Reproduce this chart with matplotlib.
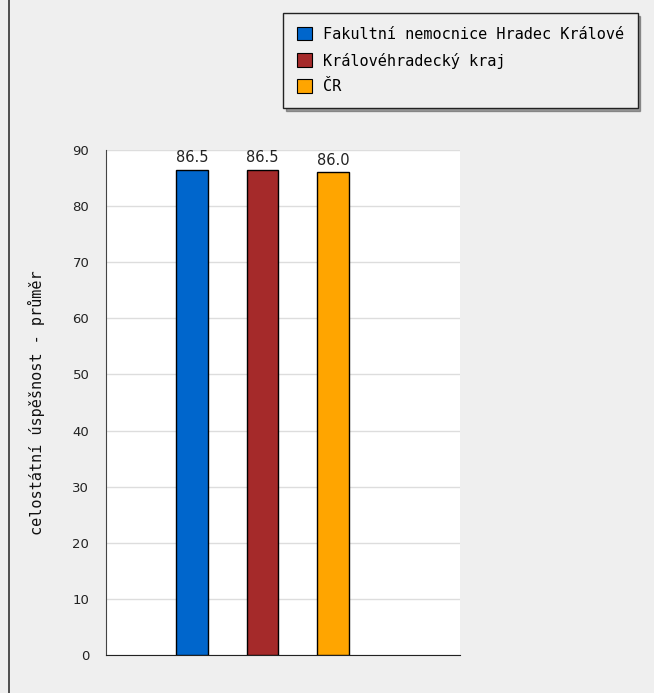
import matplotlib.pyplot as plt
from matplotlib.lines import Line2D
from matplotlib.patches import Patch

# data
series = ['Fakultní nemocnice Hradec Králové', 'Královéhradecký kraj', 'ČR']
values = [86.5, 86.5, 86.0]
colors = ['#0066cc', '#a52a2a', '#ffa500']
yticks = [0, 10, 20, 30, 40, 50, 60, 70, 80, 90]

fig = plt.figure(figsize=(6.54, 6.93), dpi=100, facecolor='#efefef')
ax = fig.add_axes([106 / 654, 1 - 655 / 693, 354 / 654, 505 / 693])
ax.set_facecolor('white')

x = range(len(values))
bars = ax.bar(x, values, width=0.45, color=colors, edgecolor='black', linewidth=1, zorder=3)
for b, v in zip(bars, values):
    ax.text(b.get_x() + b.get_width() / 2, v + 0.8, f'{v:.1f}', ha='center', va='bottom',
            fontsize=10.5, color='#222222', family='DejaVu Sans')

ax.set_xlim(-1.22, 3.80)
ax.set_ylim(0, 90)
ax.set_yticks(yticks)
ax.set_xticks([])
ax.tick_params(axis='y', length=0, pad=12, labelsize=9.5, labelcolor='#222222')
ax.grid(axis='y', color='#dddddd', linewidth=1, zorder=0)
for s in ['top', 'right']:
    ax.spines[s].set_visible(False)
ax.spines['left'].set_color('#444444')
ax.spines['bottom'].set_color('#222222')
ax.set_ylabel('celostátní úspěšnost - průměr', family='DejaVu Sans Mono', fontsize=11,
              labelpad=20, color='#111111')

handles = [Patch(facecolor=c, edgecolor='black', linewidth=0.8) for c in colors]
leg = fig.legend(handles, series, loc='upper left', bbox_to_anchor=(283 / 654, 1 - 13 / 693),
                 prop={'family': 'DejaVu Sans Mono', 'size': 11}, frameon=True, fancybox=False,
                 shadow=True, handlelength=1.0, handleheight=1.0, handletextpad=0.7,
                 labelspacing=0.7, borderpad=0.9, borderaxespad=0)
leg.get_frame().set_facecolor('#efefef')
leg.get_frame().set_edgecolor('#222222')
leg.get_frame().set_linewidth(1)

fig.add_artist(Line2D([9 / 654, 9 / 654], [0, 1], transform=fig.transFigure,
                      color='#333333', linewidth=1.2))

fig.savefig('out.png', dpi=100, facecolor=fig.get_facecolor())
